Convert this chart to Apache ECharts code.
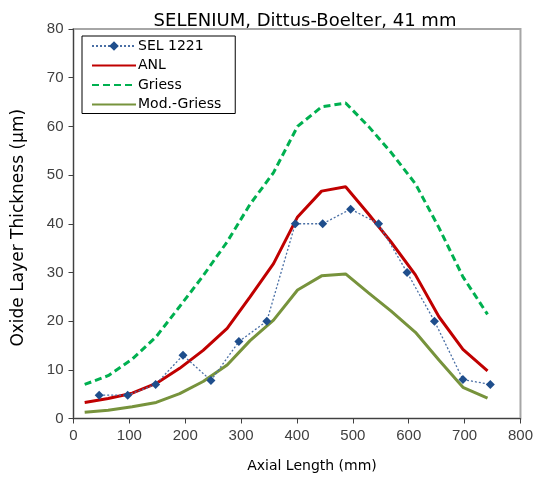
<!DOCTYPE html>
<html><head><meta charset="utf-8">
<script src="https://cdn.jsdelivr.net/npm/echarts@6/dist/echarts.min.js"></script>
<style>html,body{margin:0;padding:0;background:#fff}#c{width:536px;height:484px}</style>
</head><body><div id="c"></div>
<script>
const selX = [46, 97, 147, 196, 246, 296, 346, 397, 446, 496, 546, 597, 646, 697, 746];
const selY = [4.8, 4.8, 7.0, 13.0, 7.8, 15.8, 20.0, 40.0, 40.0, 43.0, 40.0, 30.0, 20.0, 8.0, 7.0];
const modelX = [20, 62, 105, 148, 190, 232, 275, 316, 358, 401, 444, 487, 528, 568, 612, 654, 697, 741];
const anlY = [3.3, 4.1, 5.2, 7.2, 10.3, 14.0, 18.5, 25.0, 31.8, 41.4, 46.7, 47.6, 42.0, 36.3, 29.5, 20.9, 14.2, 9.8];
const griessY = [7.0, 8.8, 12.2, 16.8, 23.0, 29.3, 36.3, 44.0, 50.5, 60.0, 64.0, 64.8, 60.0, 54.7, 48.2, 39.2, 29.1, 21.4];
const modGriessY = [1.3, 1.7, 2.4, 3.3, 5.1, 7.6, 11.0, 16.0, 20.2, 26.4, 29.3, 29.7, 25.8, 22.1, 17.7, 12.0, 6.4, 4.2];
const xTicks = [0, 100, 200, 300, 400, 500, 600, 700, 800];
const yTicks = [0, 10, 20, 30, 40, 50, 60, 70, 80];
const seriesNames = ['SEL 1221', 'ANL', 'Griess', 'Mod.-Griess'];
const titleText = 'SELENIUM, Dittus-Boelter, 41 mm';
const xName = 'Axial Length (mm)';
const yName = 'Oxide Layer Thickness (\u03bcm)';

const zip = (xs, ys) => xs.map((x, i) => [x, ys[i]]);
const FONT = '"Liberation Sans", Arial, sans-serif';
const WIDE = '"DejaVu Sans", sans-serif';
const chart = echarts.init(document.getElementById('c'), null, {renderer: 'canvas'});
chart.setOption({
  animation: false,
  textStyle: {fontFamily: FONT},
  title: {text: titleText, left: 300, top: 7, textAlign: 'center',
    textStyle: {fontFamily: WIDE, fontSize: 18, fontWeight: 'normal', color: '#000'}},
  grid: {left: 73.5, right: 12, top: 29, bottom: 65.5, show: true, borderColor: '#a6a6a6', borderWidth: 2, containLabel: false},
  legend: {
    orient: 'vertical', left: 82, top: 36, padding: [3, 14, 2, 9],
    borderColor: '#000', borderWidth: 1, itemWidth: 44, itemHeight: 12, itemGap: 5.5,
    textStyle: {fontFamily: WIDE, fontSize: 14, color: '#000', padding: [0, 0, 0, -3]},
    data: [
      {name: seriesNames[0]},
      {name: seriesNames[1], itemStyle: {opacity: 0}},
      {name: seriesNames[2], itemStyle: {opacity: 0}},
      {name: seriesNames[3], itemStyle: {opacity: 0}}
    ]
  },
  xAxis: {
    type: 'value', min: xTicks[0], max: xTicks[xTicks.length - 1], interval: 100,
    name: xName, nameLocation: 'middle', nameGap: 41,
    nameTextStyle: {fontFamily: WIDE, fontSize: 14, color: '#000', padding: [0, 0, 0, 30]},
    axisLine: {show: true, lineStyle: {color: '#404040', width: 1}},
    axisTick: {show: true, length: 5, inside: false, lineStyle: {color: '#404040'}},
    axisLabel: {fontFamily: FONT, fontSize: 15, color: '#404040', margin: 10},
    splitLine: {show: false}
  },
  yAxis: {
    type: 'value', min: yTicks[0], max: yTicks[yTicks.length - 1], interval: 10,
    name: yName, nameLocation: 'middle', nameGap: 46,
    nameTextStyle: {fontFamily: WIDE, fontSize: 17, color: '#000', padding: [0, 8, 0, 0]},
    axisLine: {show: true, lineStyle: {color: '#404040', width: 1}},
    axisTick: {show: true, length: 5, inside: false, lineStyle: {color: '#404040'}},
    axisLabel: {fontFamily: FONT, fontSize: 15, color: '#404040', margin: 10},
    splitLine: {show: false}
  },
  series: [
    {name: seriesNames[0], type: 'line', data: zip(selX, selY), z: 5,
      symbol: 'diamond', symbolSize: 9, showSymbol: true,
      lineStyle: {color: '#4a6fa5', width: 1.3, type: [2, 2]},
      itemStyle: {color: '#1f4e8c', borderWidth: 0}},
    {name: seriesNames[1], type: 'line', data: zip(modelX, anlY), z: 4,
      symbol: 'none', lineStyle: {color: '#c00000', width: 3}, itemStyle: {color: '#c00000'}},
    {name: seriesNames[2], type: 'line', data: zip(modelX, griessY), z: 3,
      symbol: 'none', lineStyle: {color: '#00b050', width: 3, type: [7, 4]}, itemStyle: {color: '#00b050'}},
    {name: seriesNames[3], type: 'line', data: zip(modelX, modGriessY), z: 3,
      symbol: 'none', lineStyle: {color: '#77933c', width: 3}, itemStyle: {color: '#77933c'}}
  ]
});
</script></body></html>
